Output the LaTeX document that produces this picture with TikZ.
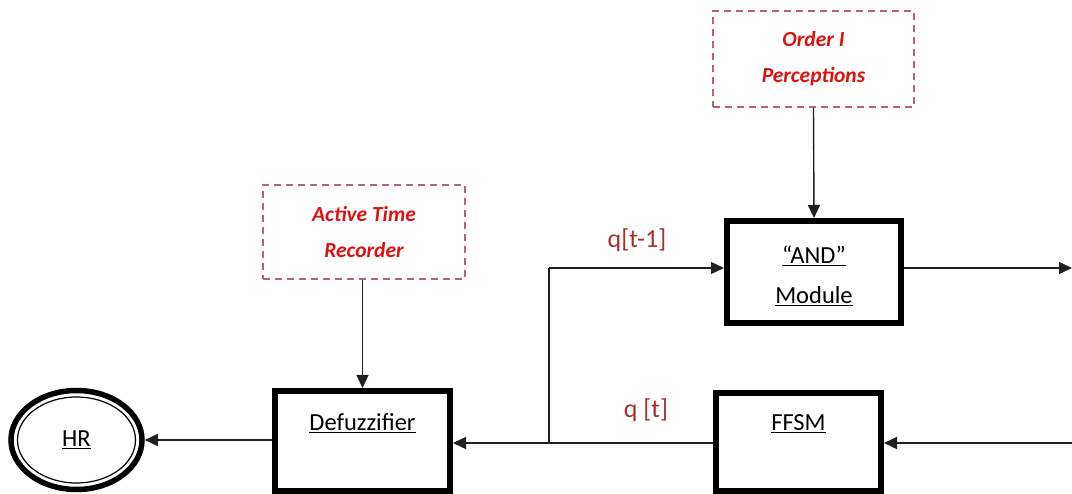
\documentclass[tikz,border=0pt]{standalone}
\usepackage{fontspec}
\setmainfont{Carlito}
\usetikzlibrary{arrows.meta,shapes.geometric}
\definecolor{dashred}{HTML}{B8646E}
\definecolor{txtred}{HTML}{E01010}
\definecolor{lblred}{HTML}{A8302C}
\definecolor{linegray}{HTML}{202020}
\tikzset{
  blockbox/.style={draw=black, line width=6pt, fill=white, inner sep=0pt},
  dashbox/.style={draw=dashred, line width=2pt, dash pattern=on 7pt off 5pt, inner sep=0pt,
     text=txtred, font=\fontsize{21.5}{36}\selectfont\bfseries\itshape, align=center},
  blocktext/.style={font=\fontsize{24.5}{40}\selectfont, align=center, inner sep=0pt},
  conn/.style={draw=linegray, line width=1.4pt, -{Triangle[length=13pt,width=12pt]}},
  plainconn/.style={draw=linegray, line width=1.4pt},
  qlabel/.style={text=lblred, font=\fontsize{26}{30}\selectfont, inner sep=0pt}
}
\begin{document}
\begin{tikzpicture}[x=1pt,y=-1pt]
\useasboundingbox (0,0) rectangle (1072,494);
% dashed boxes
\node[dashbox, minimum width=201pt, minimum height=96pt] (order) at (813.5,59) {Order I\\Perceptions};
\node[dashbox, minimum width=202pt, minimum height=94pt] (atr) at (364,232) {Active Time\\Recorder};
% blocks
\node[blockbox, minimum width=174pt, minimum height=102pt] (and) at (814,272) {};
\node[blocktext] (andtxt) at (814,276) {\underline{``AND''}\\\underline{Module}};
\node[blockbox, minimum width=175pt, minimum height=100pt] (defz) at (362.5,441) {};
\node[blocktext] (defztxt) at (362.5,423) {\underline{Defuzzifier}};
\node[blockbox, minimum width=165pt, minimum height=98pt] (ffsm) at (798.5,442) {};
\node[blocktext] (ffsmtxt) at (798.5,424) {\underline{FFSM}};
% HR ellipse
\node[draw=black, line width=5.5pt, ellipse, minimum width=131pt, minimum height=99pt, inner sep=0pt] (hr) at (76.5,440) {};
\draw[line width=1.2pt] (hr.center) ellipse [x radius=59pt, y radius=43pt];
\node[blocktext] (hrtxt) at (76.5,440) {\underline{HR}};
% coordinates
\coordinate (junc) at (549,443);
\coordinate (corner) at (549,268);
\coordinate (rightout) at (1072,268);
\coordinate (rightin) at (1072,443);
% connectors
\draw[conn] (order.south) -- (and.north);
\draw[conn] (atr.south -| defz.north) -- (defz.north);
\draw[conn] (and.east |- rightout) -- (rightout);
\draw[conn] (rightin) -- (ffsm.east |- rightin);
\draw[conn] (ffsm.west |- junc) -- (defz.east |- junc);
\draw[plainconn] (junc) -- (corner);
\draw[conn] (corner) -- (and.west |- corner);
\draw[conn] (defz.west |- hr.east) -- (hr.east);
% labels
\node[qlabel] (q1) at (637,240) {q[t-1]};
\node[qlabel] (q0) at (646,410) {q [t]};
\end{tikzpicture}
\end{document}
